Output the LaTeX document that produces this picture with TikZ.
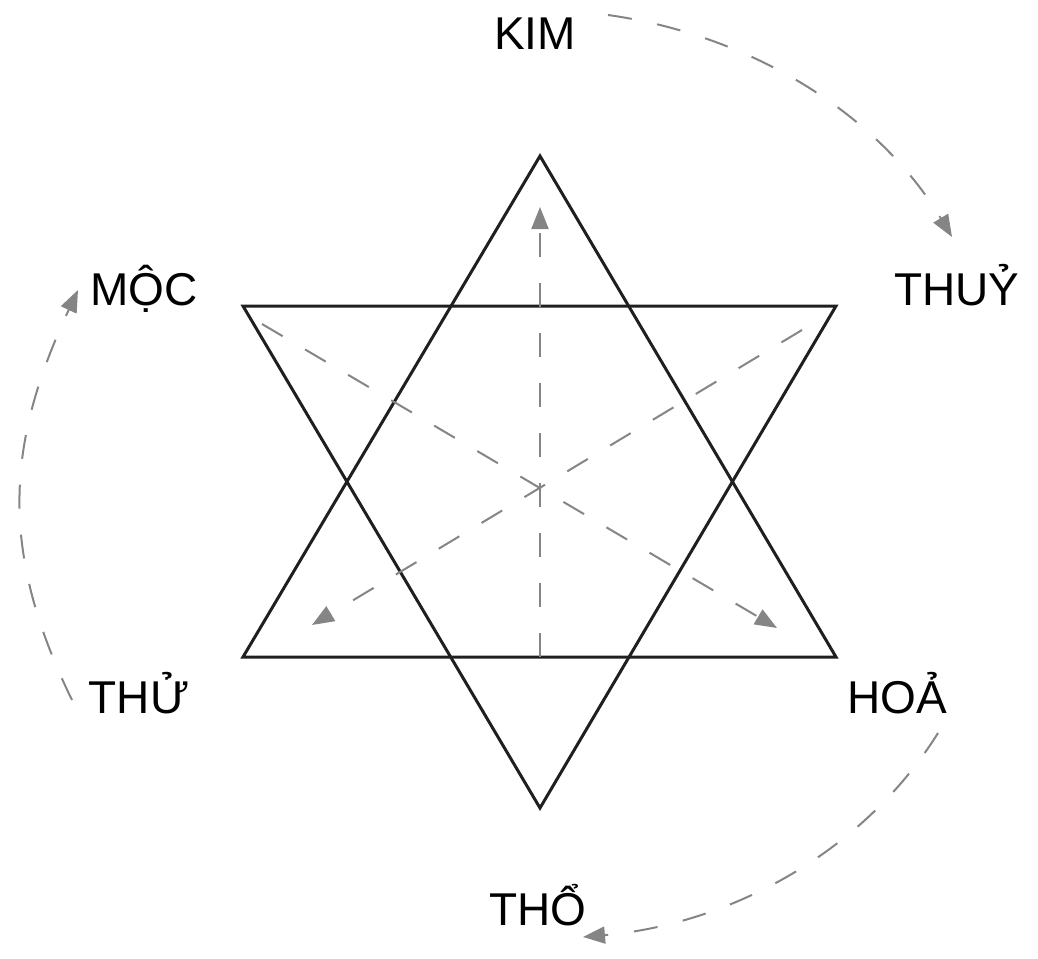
\documentclass[tikz,border=0pt]{standalone}
\usepackage{fontspec}
\setmainfont{Liberation Sans}
\usetikzlibrary{arrows.meta}

\begin{document}
\begin{tikzpicture}[
  x=1pt, y=1pt,
  font=\fontsize{46}{52}\selectfont,
  elem/.style={anchor=base, inner sep=0pt},
  star/.style={draw=black!88, line width=3pt, line join=miter},
  flow/.style={draw=black!48, line width=2pt, dash pattern=on 24pt off 26pt,
               -{Triangle[length=22pt, width=17pt]}}
]
\useasboundingbox (0,0) rectangle (1038,-958);
\coordinate (a1) at (540,-156);
\coordinate (a2) at (243,-657);
\coordinate (a3) at (836,-657);
\coordinate (b1) at (243,-306);
\coordinate (b2) at (836,-306);
\coordinate (b3) at (540,-808);
\draw[star] (a1) -- (a2) -- (a3) -- cycle;
\draw[star] (b1) -- (b2) -- (b3) -- cycle;
\node[elem] (kim)  at (535,-50)  {KIM};
\node[elem] (thuy) at (957,-305) {THUỶ};
\node[elem] (moc)  at (144,-305) {MỘC};
\node[elem] (thu)  at (139,-713) {THỬ};
\node[elem] (hoa)  at (897,-713) {HOẢ};
\node[elem] (tho)  at (538,-925) {THỔ};
\coordinate (v0) at (540,-657);
\coordinate (v1) at (540,-207);
\coordinate (d0) at (262,-324);
\coordinate (d1) at (777,-628);
\coordinate (e0) at (802,-330);
\coordinate (e1) at (312,-625);
\draw[flow] (v0) -- (v1);
\draw[flow] (d0) -- (d1);
\draw[flow] (e0) -- (e1);
\coordinate (k0) at (608,-15);
\coordinate (k1) at (952,-237);
\coordinate (m0) at (72,-700);
\coordinate (m1) at (78,-290);
\coordinate (h0) at (938,-733);
\coordinate (h1) at (583,-937);
\draw[flow] (k0) to[out=-8, in=121, looseness=0.9] (k1);
\draw[flow] (m0) to[out=116, in=245, looseness=1.05] (m1);
\draw[flow] (h0) to[out=-122, in=5, looseness=0.9] (h1);
\end{tikzpicture}
\end{document}
